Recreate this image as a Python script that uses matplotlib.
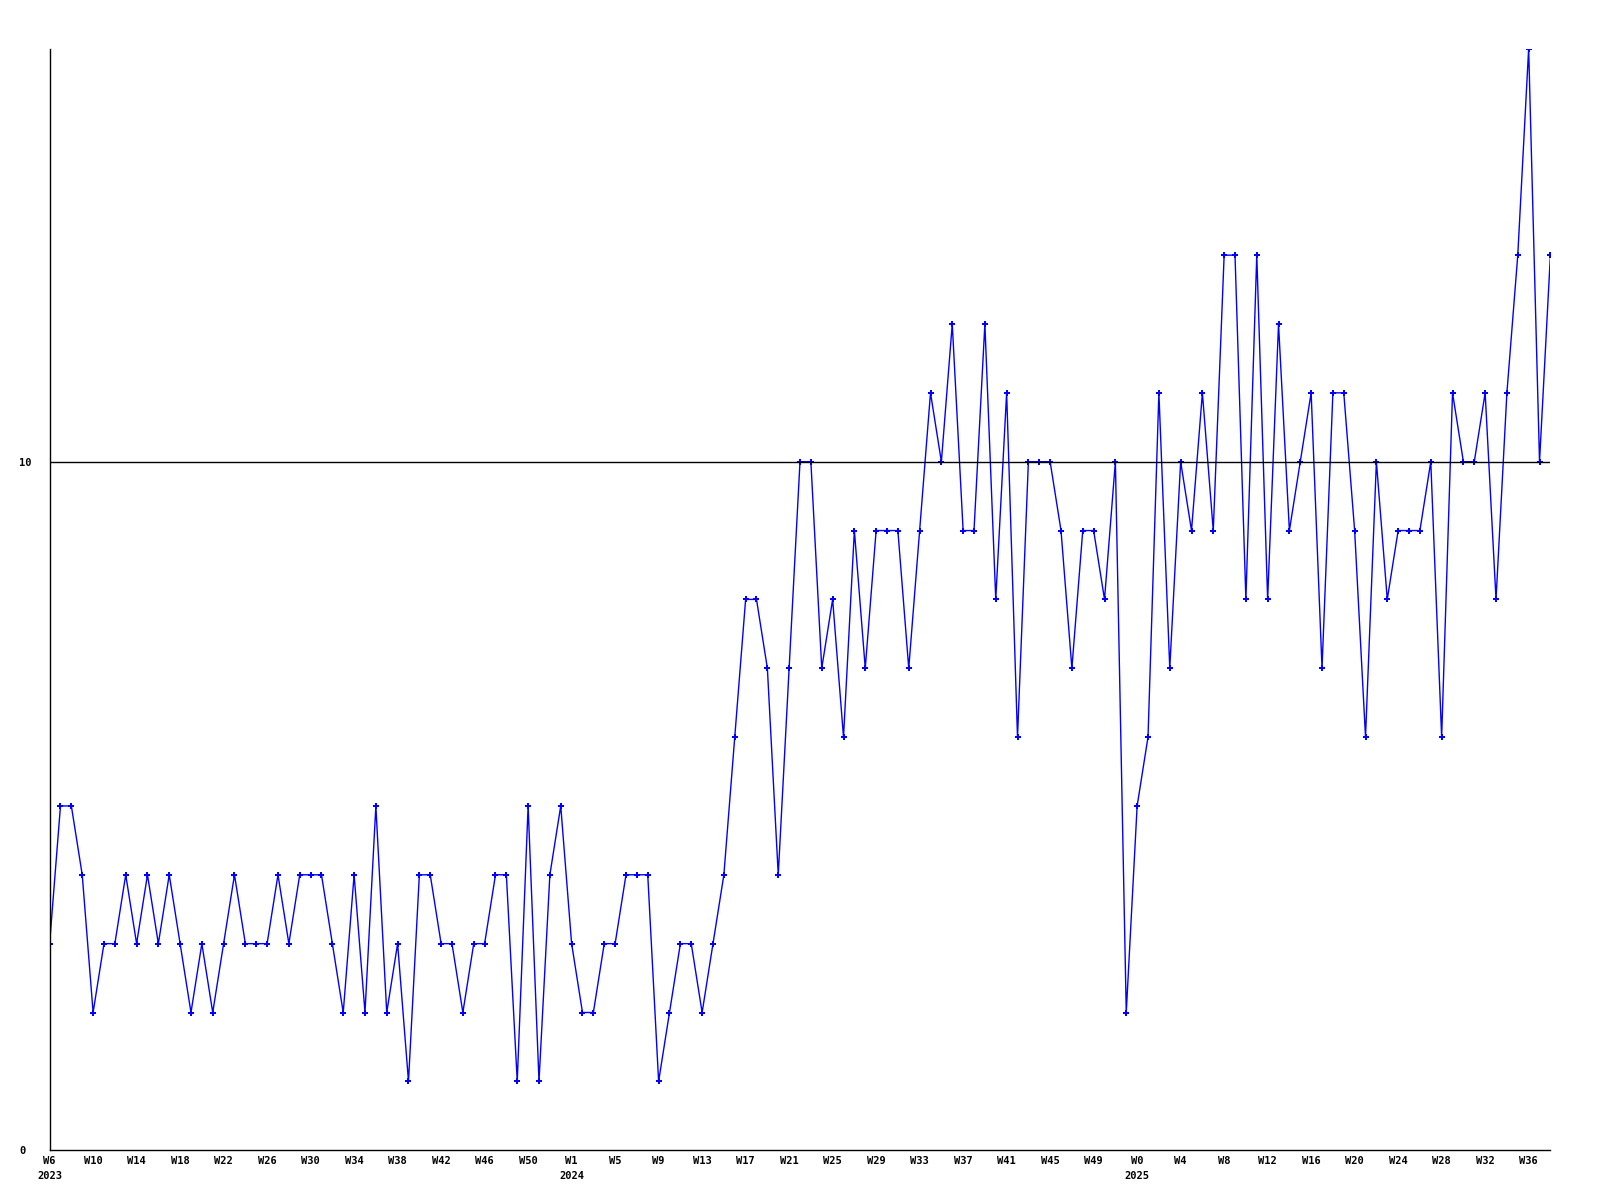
import matplotlib.pyplot as plt

# weekly counts, W6 2023 .. W38 2025
values = [
    3, 5, 5, 4, 2, 3, 3, 4, 3, 4,
    3, 4, 3, 2, 3, 2, 3, 4, 3, 3,
    3, 4, 3, 4, 4, 4, 3, 2, 4, 2,
    5, 2, 3, 1, 4, 4, 3, 3, 2, 3,
    3, 4, 4, 1, 5, 1, 4, 5, 3, 2,
    2, 3, 3, 4, 4, 4, 1, 2, 3, 3,
    2, 3, 4, 6, 8, 8, 7, 4, 7, 10,
    10, 7, 8, 6, 9, 7, 9, 9, 9, 7,
    9, 11, 10, 12, 9, 9, 12, 8, 11, 6,
    10, 10, 10, 9, 7, 9, 9, 8, 10, 2,
    5, 6, 11, 7, 10, 9, 11, 9, 13, 13,
    8, 13, 8, 12, 9, 10, 11, 7, 11, 11,
    9, 6, 10, 8, 9, 9, 9, 10, 6, 11,
    10, 10, 11, 8, 11, 13, 16, 10, 13,
]

week_labels = [
    "W6", "W10", "W14", "W18", "W22", "W26", "W30", "W34", "W38", "W42",
    "W46", "W50", "W1", "W5", "W9", "W13", "W17", "W21", "W25", "W29",
    "W33", "W37", "W41", "W45", "W49", "W0", "W4", "W8", "W12", "W16",
    "W20", "W24", "W28", "W32", "W36",
]
year_labels = {"W6": "2023", "W1": "2024", "W0": "2025"}

font = {"family": "DejaVu Sans Mono", "weight": "bold", "size": 7.5}

fig = plt.figure(figsize=(16, 12), dpi=100)
ax = fig.add_axes([0.031, 0.0415, 0.938, 0.918])

x = list(range(len(values)))
ax.plot(x, values, color="#0000ff", linewidth=1.0, marker="P", markersize=4,
        markeredgewidth=0)
ax.axhline(10, color="black", linewidth=1.0)

ax.set_xlim(0, len(values) - 1)
ax.set_ylim(0, 16)

ticks = list(range(0, len(values), 4))[:len(week_labels)]
labels = [w + ("\n" + year_labels[w] if w in year_labels else "") for w in week_labels]
ax.set_xticks(ticks)
ax.set_xticklabels(labels, fontdict=font, linespacing=1.6, va="top")
ax.set_yticks([0, 10])
ax.set_yticklabels(["0", "10"], fontdict=font, ha="left")
ax.tick_params(axis="x", length=0, pad=4)
ax.tick_params(axis="y", length=0, pad=22)

for side in ["top", "right"]:
    ax.spines[side].set_visible(False)
ax.spines["left"].set_linewidth(1.0)
ax.spines["bottom"].set_linewidth(1.0)

fig.savefig("out.png", dpi=100)
